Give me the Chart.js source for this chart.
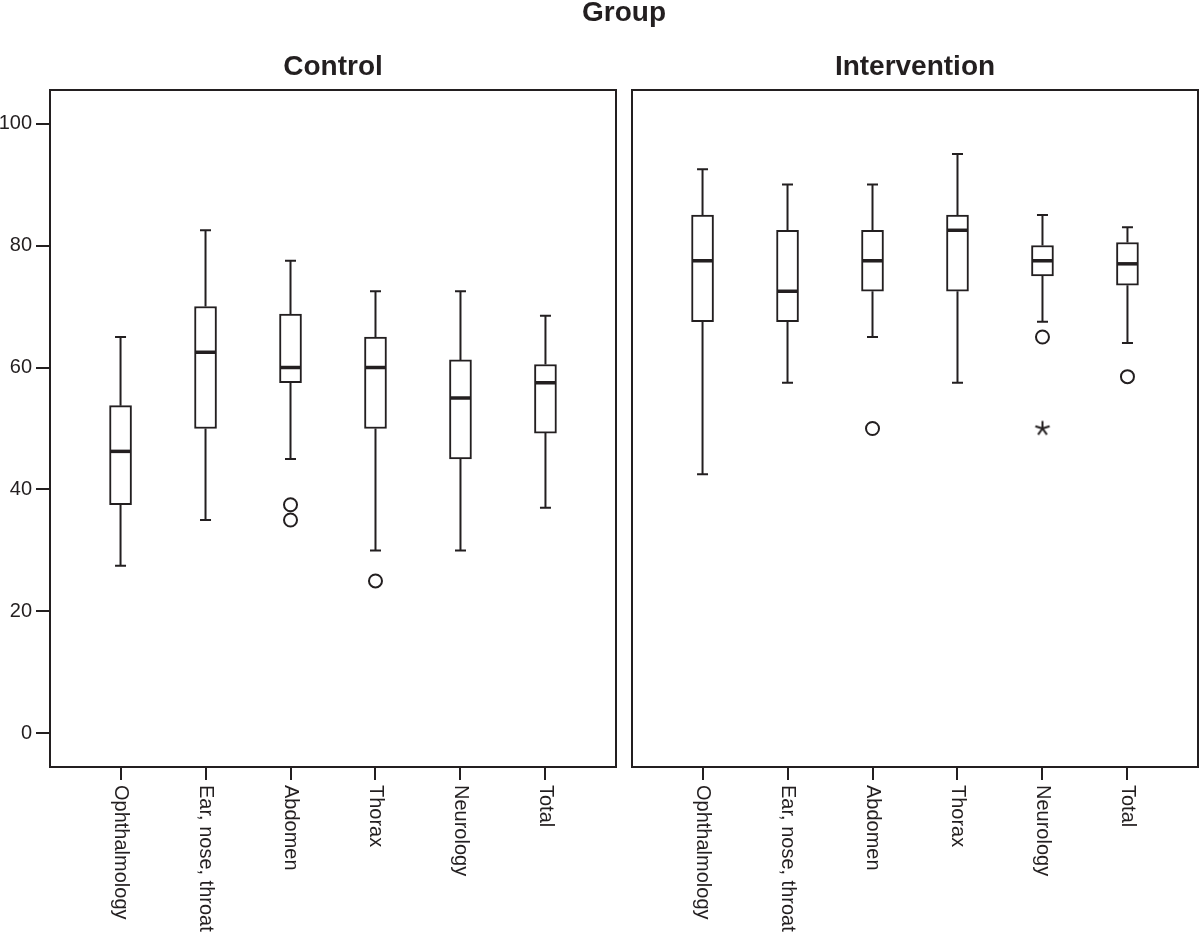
<!DOCTYPE html>
<html><head><meta charset="utf-8">
<script src="https://cdn.jsdelivr.net/npm/chart.js@4.4.1/dist/chart.umd.min.js"></script>
<style>
html,body{margin:0;padding:0;background:#fff;overflow:hidden}
#wrap{position:relative;width:1200px;height:942px;font-family:"Liberation Sans",Arial,Helvetica,sans-serif;color:#231f20}
.t{position:absolute;font-weight:bold;font-size:28px;line-height:28px;text-align:center;white-space:nowrap;width:240px}
canvas{position:absolute;top:0}
</style></head><body>
<div id="wrap">
<canvas id="c1" width="620" height="942" style="left:0;width:620px;height:942px"></canvas>
<canvas id="c2" width="580" height="942" style="left:620px;width:580px;height:942px"></canvas>
<div class="t" style="left:504px;top:-2px">Group</div>
<div class="t" style="left:213px;top:52px">Control</div>
<div class="t" style="left:795px;top:52px">Intervention</div>
</div>
<script>
// ---- data ----
const categories = ['Ophthalmology', 'Ear, nose, throat', 'Abdomen', 'Thorax', 'Neurology', 'Total'];
const yTickValues = [0, 20, 40, 60, 80, 100];

const controlMin    = [27.5, 35,   45,    30,   30,    37];
const controlQ1     = [37.5, 50,   57.5,  50,   45,    49.25];
const controlMedian = [46.25,62.5, 60,    60,   55,    57.5];
const controlQ3     = [53.75,70,   68.75, 65,   61.25, 60.5];
const controlMax    = [65,   82.5, 77.5,  72.5, 72.5,  68.5];
const controlOutlierCat = [2, 2, 3];
const controlOutlierVal = [37.5, 35, 25];
const controlExtremeCat = [];
const controlExtremeVal = [];

const interventionMin    = [42.5, 57.5, 65,   57.5, 67.5, 64];
const interventionQ1     = [67.5, 67.5, 72.5, 72.5, 75,   73.5];
const interventionMedian = [77.5, 72.5, 77.5, 82.5, 77.5, 77];
const interventionQ3     = [85,   82.5, 82.5, 85,   80,   80.5];
const interventionMax    = [92.5, 90,   90,   95,   85,   83];
const interventionOutlierCat = [2, 4, 5];
const interventionOutlierVal = [50, 65, 58.5];
const interventionExtremeCat = [4];
const interventionExtremeVal = [50];

// ---- styling ----
const INK = '#231f20';
const FONT = '"Liberation Sans", Arial, Helvetica, sans-serif';
const Y_MIN = -5.5, Y_MAX = 105.5;
const X_MIN = -0.83, X_MAX = 5.83;

function asteriskImage() {
  const c = document.createElement('canvas');
  c.width = 18; c.height = 18;
  const g = c.getContext('2d');
  g.strokeStyle = INK; g.lineWidth = 2;
  g.beginPath();
  for (let k = 0; k < 5; k++) {
    const a = -Math.PI / 2 + k * 2 * Math.PI / 5;
    g.moveTo(9, 9);
    g.lineTo(9 + 7.5 * Math.cos(a), 9 + 7.5 * Math.sin(a));
  }
  g.stroke();
  return c;
}
const starImg = asteriskImage();

const boxPlugin = {
  id: 'boxExtras',
  beforeDatasetsDraw(chart, args, o) {
    const ctx = chart.ctx, xs = chart.scales.x, ys = chart.scales.y;
    ctx.save();
    ctx.strokeStyle = INK; ctx.lineWidth = 2;
    o.q1.forEach((_, i) => {
      const x = xs.getPixelForValue(i);
      const pMin = ys.getPixelForValue(o.min[i]), pMax = ys.getPixelForValue(o.max[i]);
      const pQ1 = ys.getPixelForValue(o.q1[i]), pQ3 = ys.getPixelForValue(o.q3[i]);
      const c = 5.5;
      ctx.beginPath();
      ctx.moveTo(x, pQ3); ctx.lineTo(x, pMax);
      ctx.moveTo(x, pQ1); ctx.lineTo(x, pMin);
      ctx.moveTo(x - c, pMax); ctx.lineTo(x + c, pMax);
      ctx.moveTo(x - c, pMin); ctx.lineTo(x + c, pMin);
      ctx.stroke();
    });
    ctx.restore();
  },
  afterDatasetDraw(chart, args, o) {
    if (args.index !== 0) return;
    const ctx = chart.ctx, xs = chart.scales.x, ys = chart.scales.y;
    ctx.save();
    ctx.strokeStyle = INK; ctx.lineWidth = 3.5;
    o.median.forEach((m, i) => {
      const x = xs.getPixelForValue(i), y = ys.getPixelForValue(m);
      ctx.beginPath(); ctx.moveTo(x - 10, y); ctx.lineTo(x + 10, y); ctx.stroke();
    });
    ctx.restore();
  },
  afterDraw(chart) {
    const ctx = chart.ctx, a = chart.chartArea, xs = chart.scales.x;
    ctx.save();
    ctx.strokeStyle = INK; ctx.lineWidth = 2;
    ctx.strokeRect(a.left, a.top, a.right - a.left, a.bottom - a.top);
    ctx.fillStyle = INK;
    ctx.font = '20px ' + FONT;
    ctx.textAlign = 'left'; ctx.textBaseline = 'middle';
    categories.forEach((c, i) => {
      ctx.save();
      ctx.translate(xs.getPixelForValue(i), a.bottom + 18);
      ctx.rotate(Math.PI / 2);
      ctx.fillText(c, 0, 0);
      ctx.restore();
    });
    ctx.restore();
  }
};

function makePanel(id, stats, outCat, outVal, extCat, extVal, showY, padding) {
  return new Chart(document.getElementById(id), {
    type: 'bar',
    data: {
      datasets: [
        {
          type: 'bar',
          data: categories.map((c, i) => ({ x: i, y: [stats.q1[i], stats.q3[i]] })),
          backgroundColor: '#ffffff', borderColor: INK, borderWidth: 2,
          borderSkipped: false, barThickness: 22, grouped: false
        },
        {
          type: 'scatter',
          data: outCat.map((c, k) => ({ x: c, y: outVal[k] })),
          pointStyle: 'circle', pointRadius: 6.5, pointBorderWidth: 2,
          pointBorderColor: INK, pointBackgroundColor: '#ffffff'
        },
        {
          type: 'scatter',
          data: extCat.map((c, k) => ({ x: c, y: extVal[k] })),
          pointStyle: starImg, pointRadius: 8
        }
      ]
    },
    options: {
      responsive: false, maintainAspectRatio: false, animation: false, devicePixelRatio: 1, events: [],
      layout: { padding: padding, autoPadding: false },
      plugins: { legend: { display: false }, tooltip: { enabled: false }, title: { display: false },
        boxExtras: stats },
      scales: {
        x: {
          type: 'linear', min: X_MIN, max: X_MAX, offset: false,
          afterBuildTicks: s => { s.ticks = categories.map((c, i) => ({ value: i })); },
          afterFit: s => { s.height = 175; },
          ticks: { display: false },
          grid: { display: true, offset: false, drawOnChartArea: false, drawTicks: true, tickLength: 13, color: INK, lineWidth: 2 },
          border: { display: false }
        },
        y: showY ? {
          min: Y_MIN, max: Y_MAX,
          afterBuildTicks: s => { s.ticks = yTickValues.map(v => ({ value: v })); },
          afterFit: s => { s.width = 50; },
          ticks: { color: INK, font: { family: FONT, size: 20 }, padding: 4 },
          grid: { display: true, drawOnChartArea: false, drawTicks: true, tickLength: 14, color: INK, lineWidth: 2 },
          border: { display: false }
        } : { display: false, min: Y_MIN, max: Y_MAX }
      }
    },
    plugins: [boxPlugin]
  });
}

makePanel('c1',
  { min: controlMin, q1: controlQ1, median: controlMedian, q3: controlQ3, max: controlMax },
  controlOutlierCat, controlOutlierVal, controlExtremeCat, controlExtremeVal,
  true, { top: 90, right: 4, bottom: 0, left: 0 });
makePanel('c2',
  { min: interventionMin, q1: interventionQ1, median: interventionMedian, q3: interventionQ3, max: interventionMax },
  interventionOutlierCat, interventionOutlierVal, interventionExtremeCat, interventionExtremeVal,
  false, { top: 90, right: 2, bottom: 0, left: 12 });
</script>
</body></html>
